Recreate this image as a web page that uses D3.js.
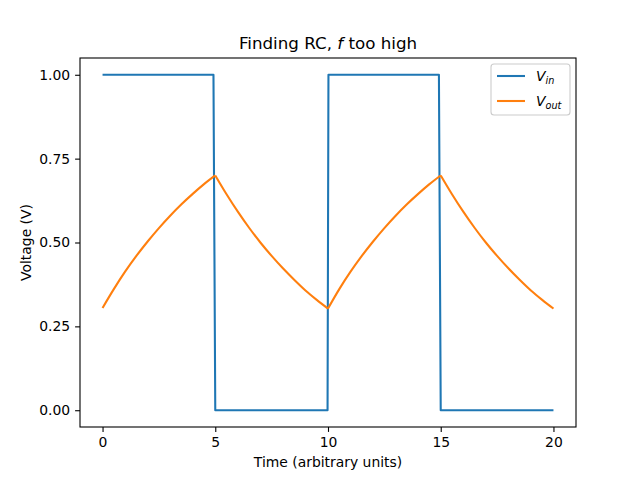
<!DOCTYPE html>
<html>
<head>
<meta charset="utf-8">
<script src="https://cdn.jsdelivr.net/npm/d3@7"></script>
<style>
  body { margin: 0; background: #fff; }
  svg text { font-family: "DejaVu Sans", sans-serif; fill: #000; }
</style>
</head>
<body>
<svg id="chart" width="640" height="480"></svg>
<script>
// Square wave input, sampled at its corners
const vinT = [0, 4.92, 5, 9.98, 10.02, 14.92, 15, 20];
const vinV = [1, 1, 0, 0, 1, 1, 0, 0];

// RC output (every half time unit)
const voutT = [0, 0.5, 1, 1.5, 2, 2.5, 3, 3.5, 4, 4.5, 5,
  5.5, 6, 6.5, 7, 7.5, 8, 8.5, 9, 9.5, 10,
  10.5, 11, 11.5, 12, 12.5, 13, 13.5, 14, 14.5, 15,
  15.5, 16, 16.5, 17, 17.5, 18, 18.5, 19, 19.5, 20];
const voutV = [0.305, 0.361, 0.413, 0.460, 0.503, 0.543, 0.580, 0.614, 0.645, 0.674, 0.700,
  0.644, 0.592, 0.544, 0.500, 0.460, 0.423, 0.389, 0.357, 0.329, 0.303,
  0.361, 0.413, 0.460, 0.503, 0.543, 0.580, 0.614, 0.645, 0.674, 0.700,
  0.644, 0.592, 0.544, 0.500, 0.460, 0.423, 0.389, 0.357, 0.329, 0.303];
// charge / discharge boundaries (times where the input switches)
const switchT = [0, 5, 10, 15, 20];

const xTicks = [0, 5, 10, 15, 20];
const yTicks = [0, 0.25, 0.5, 0.75, 1.0];

const svg = d3.select('#chart');
const mLeft = 80, mRight = 576, mTop = 58, mBottom = 427;

const x = d3.scaleLinear().domain([-1, 21]).range([mLeft, mRight]);
const y = d3.scaleLinear().domain([-0.05, 1.05]).range([mBottom, mTop]);

// axes
const xAxis = d3.axisBottom(x).tickValues(xTicks).tickFormat(d3.format('d'))
  .tickSizeInner(4.9).tickSizeOuter(0).tickPadding(4.9);
const yAxis = d3.axisLeft(y).tickValues(yTicks).tickFormat(d3.format('.2f'))
  .tickSizeInner(4.9).tickSizeOuter(0).tickPadding(4.9);

const gx = svg.append('g').attr('transform', `translate(0,${mBottom})`).call(xAxis);
const gy = svg.append('g').attr('transform', `translate(${mLeft},0)`).call(yAxis);
[gx, gy].forEach(g => {
  g.select('.domain').remove();
  g.selectAll('line').attr('stroke', '#000').attr('stroke-width', 1.1);
  g.selectAll('text').style('font-size', '13.9px').attr('fill', '#000');
});

// lines
const line = d3.line().x(d => x(d[0])).y(d => y(d[1]));
svg.append('path')
  .datum(vinT.map((t, i) => [t, vinV[i]]))
  .attr('d', line).attr('fill', 'none')
  .attr('stroke', '#1f77b4').attr('stroke-width', 2.08).attr('stroke-linejoin', 'round');

// each charge / discharge piece is smooth on its own, cusps at the switches
const smooth = d3.line().x(d => x(d[0])).y(d => y(d[1])).curve(d3.curveMonotoneX);
const vout = voutT.map((t, i) => [t, voutV[i]]);
const pieces = d3.pairs(switchT).map(([a, b]) => vout.filter(d => d[0] >= a && d[0] <= b));
svg.append('path')
  .attr('d', pieces.map(p => smooth(p)).join(''))
  .attr('fill', 'none')
  .attr('stroke', '#ff7f0e').attr('stroke-width', 2.08).attr('stroke-linejoin', 'round');

// frame
svg.append('rect')
  .attr('x', mLeft).attr('y', mTop)
  .attr('width', mRight - mLeft).attr('height', mBottom - mTop)
  .attr('fill', 'none').attr('stroke', '#000').attr('stroke-width', 1.1);

// title and labels
const title = svg.append('text')
  .attr('x', (mLeft + mRight) / 2).attr('y', 49)
  .attr('text-anchor', 'middle').style('font-size', '16.7px');
title.append('tspan').text('Finding RC, ');
title.append('tspan').attr('font-style', 'italic').text('f');
title.append('tspan').text(' too high');

svg.append('text')
  .attr('x', (mLeft + mRight) / 2).attr('y', 467)
  .attr('text-anchor', 'middle').style('font-size', '13.9px')
  .text('Time (arbitrary units)');

svg.append('text')
  .attr('transform', `translate(31,${(mTop + mBottom) / 2}) rotate(-90)`)
  .attr('text-anchor', 'middle').style('font-size', '13.9px')
  .text('Voltage (V)');

// legend
const lg = svg.append('g');
lg.append('rect')
  .attr('x', 491).attr('y', 64).attr('width', 79).attr('height', 51)
  .attr('rx', 3).attr('fill', '#fff').attr('fill-opacity', 0.8)
  .attr('stroke', '#ccc').attr('stroke-width', 1.1);
const items = [
  { c: '#1f77b4', sub: 'in' },
  { c: '#ff7f0e', sub: 'out' }
];
items.forEach((it, i) => {
  const yy = 76 + i * 25;
  lg.append('line').attr('x1', 497).attr('x2', 525).attr('y1', yy).attr('y2', yy)
    .attr('stroke', it.c).attr('stroke-width', 2.08);
  const t = lg.append('text').attr('x', 536).attr('y', yy + 5)
    .style('font-size', '13.9px').attr('font-style', 'italic');
  t.append('tspan').text('V');
  t.append('tspan').attr('dy', 3).style('font-size', '9.7px').text(it.sub);
});
</script>
</body>
</html>
